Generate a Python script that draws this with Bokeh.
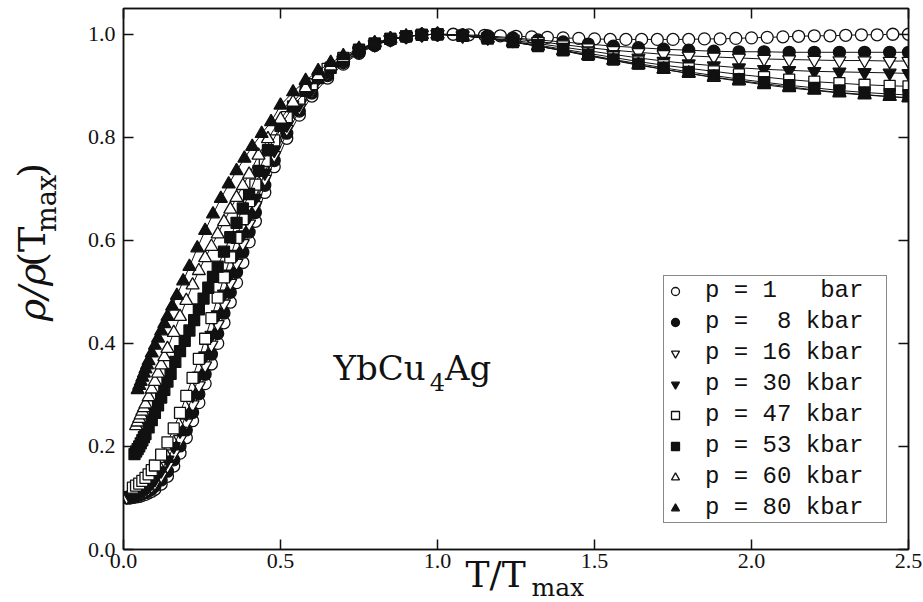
import math
from bokeh.plotting import figure
from bokeh.layouts import row
from bokeh.models import (Range1d, LinearAxis, FixedTicker, PrintfTickFormatter,
                          Label, Legend, LegendItem, Title)
from bokeh.embed import file_html
from bokeh.resources import INLINE

# ---------------- data ----------------
X_LOW = [0.01, 0.02, 0.03, 0.04, 0.05, 0.06, 0.07, 0.08, 0.09, 0.10,
         0.12, 0.14, 0.16, 0.18, 0.20, 0.22, 0.24, 0.26, 0.28, 0.30,
         0.32, 0.34, 0.36, 0.38, 0.40, 0.42, 0.45, 0.48, 0.52, 0.56,
         0.60, 0.65, 0.70, 0.75, 0.80, 0.85, 0.90, 0.95, 1.00]
X_HIGH = [1.08, 1.16, 1.24, 1.32, 1.40, 1.48, 1.56, 1.64, 1.72, 1.80,
          1.88, 1.96, 2.04, 2.12, 2.20, 2.28, 2.36, 2.44, 2.50]
X_HIGH_1BAR = [1.05, 1.10, 1.15, 1.20, 1.25, 1.30, 1.35, 1.40, 1.45, 1.50,
               1.55, 1.60, 1.65, 1.70, 1.75, 1.80, 1.85, 1.90, 1.95, 2.00,
               2.05, 2.10, 2.15, 2.20, 2.25, 2.30, 2.35, 2.40, 2.45, 2.50]

Y_1BAR_LOW = [.100, .100, .101, .102, .103, .105, .107, .110, .113, .117,
              .127, .142, .162, .187, .217, .250, .285, .322, .360, .400,
              .440, .480, .518, .557, .597, .637, .693, .743, .798, .843,
              .880, .915, .942, .963, .978, .989, .995, .999, 1.000]
Y_1BAR_HIGH = [1.000, .999, .998, .997, .996, .995, .994, .993, .992, .991,
               .990, .990, .990, .990, .990, .990, .991, .991, .992, .993,
               .994, .995, .996, .997, .997, .998, .999, .999, 1.000, 1.000]

Y_8_LOW = [.101, .102, .103, .104, .106, .108, .111, .114, .118, .123,
           .135, .152, .174, .201, .232, .266, .302, .340, .379, .419,
           .459, .499, .538, .577, .616, .654, .707, .755, .808, .851,
           .886, .920, .945, .965, .979, .989, .995, .999, 1.000]
Y_8_HIGH = [.999, .997, .993, .989, .985, .981, .977, .974, .971, .969,
            .967, .966, .966, .965, .965, .965, .965, .965, .965]

Y_16_LOW = [.102, .103, .104, .106, .108, .111, .114, .118, .123, .129,
            .143, .162, .186, .214, .246, .281, .318, .357, .397, .437,
            .477, .517, .556, .594, .632, .668, .719, .765, .816, .857,
            .890, .923, .947, .966, .980, .990, .996, .999, 1.000]
Y_16_HIGH = [.998, .995, .991, .986, .980, .974, .969, .965, .961, .958,
             .956, .954, .952, .951, .950, .949, .949, .948, .948]

Y_30_LOW = [.105, .106, .108, .111, .114, .118, .123, .129, .136,
            .153, .174, .200, .230, .263, .299, .337, .376, .416, .456,
            .496, .535, .573, .611, .647, .682, .731, .775, .824, .864,
            .895, .927, .950, .968, .981, .990, .996, .999, 1.000]
Y_30_HIGH = [.997, .993, .988, .982, .975, .968, .961, .954, .948, .943,
             .939, .935, .932, .930, .928, .927, .926, .925, .924]

Y_47_LOW = [.120, .124, .128, .133, .139, .146, .154, .163,
            .184, .208, .235, .265, .298, .333, .370, .409, .449, .489,
            .528, .567, .605, .641, .676, .708, .754, .794, .839, .875,
            .903, .933, .954, .970, .982, .991, .996, .999, 1.000]
Y_47_HIGH = [.997, .992, .986, .979, .971, .963, .955, .947, .940, .934,
             .928, .922, .917, .912, .908, .905, .902, .900, .899]

X_53_LOW = [0.035, 0.04, 0.045, 0.05, 0.055, 0.06, 0.065, 0.07, 0.08, 0.09,
            0.10, 0.11, 0.12, 0.13, 0.14, 0.15, 0.165, 0.18, 0.195, 0.21,
            0.225, 0.24, 0.255, 0.27, 0.285, 0.30, 0.32, 0.34, 0.36, 0.38,
            0.40, 0.43, 0.46, 0.50, 0.54, 0.58, 0.62, 0.66, 0.70, 0.75,
            0.80, 0.85, 0.90, 0.95, 1.00]
Y_53_LOW = [.185, .190, .195, .200, .206, .212, .218, .224, .237, .251,
            .265, .280, .295, .310, .326, .341, .364, .385, .405, .425,
            .445, .466, .487, .508, .529, .549, .578, .606, .634, .662,
            .690, .735, .775, .822, .860, .890, .915, .935, .951, .969,
            .982, .991, .996, .999, 1.000]
Y_53_HIGH = [.997, .992, .985, .977, .969, .960, .951, .943, .935, .927,
             .920, .913, .907, .901, .896, .891, .887, .884, .882]

X_60_LOW = [0.04, 0.045, 0.05, 0.055, 0.06, 0.065, 0.07, 0.08, 0.09, 0.10,
            0.11, 0.12, 0.13, 0.14, 0.16, 0.18, 0.20, 0.22, 0.24, 0.26,
            0.28, 0.30, 0.32, 0.34, 0.36, 0.38, 0.40, 0.43, 0.46, 0.50,
            0.54, 0.58, 0.62, 0.66, 0.70, 0.75, 0.80, 0.85, 0.90, 0.95, 1.00]
Y_60_LOW = [.240, .247, .254, .261, .268, .275, .282, .296, .311, .326,
            .342, .358, .374, .390, .421, .452, .483, .513, .541, .566,
            .588, .612, .636, .660, .683, .706, .728, .765, .797, .835,
            .868, .896, .919, .938, .954, .970, .983, .991, .996, .999, 1.000]
Y_60_HIGH = [.997, .992, .985, .977, .968, .959, .950, .941, .932, .924,
             .916, .909, .902, .896, .891, .886, .882, .879, .877]

X_80_LOW = [0.045, 0.05, 0.055, 0.06, 0.065, 0.07, 0.075, 0.08, 0.09, 0.10,
            0.11, 0.12, 0.13, 0.14, 0.155, 0.17, 0.19, 0.21, 0.235, 0.26,
            0.285, 0.31, 0.335, 0.36, 0.385, 0.41, 0.44, 0.47, 0.50, 0.54,
            0.58, 0.62, 0.66, 0.70, 0.75, 0.80, 0.85, 0.90, 0.95, 1.00]
Y_80_LOW = [.310, .318, .326, .334, .342, .350, .358, .366, .381, .396,
            .410, .424, .438, .452, .472, .493, .521, .549, .585, .619,
            .651, .681, .709, .735, .759, .782, .807, .830, .862, .888,
            .910, .929, .945, .958, .972, .983, .991, .996, .999, 1.000]
Y_80_HIGH = [.997, .992, .985, .977, .968, .958, .949, .940, .932, .924,
             .917, .910, .904, .898, .892, .887, .883, .879, .876]

LABELS = ["p = 1   bar", "p =  8 kbar", "p = 16 kbar", "p = 30 kbar",
          "p = 47 kbar", "p = 53 kbar", "p = 60 kbar", "p = 80 kbar"]

SERIES = [
    (X_LOW + X_HIGH_1BAR, Y_1BAR_LOW + Y_1BAR_HIGH, "circle", False, 12),
    (X_LOW + X_HIGH, Y_8_LOW + Y_8_HIGH, "circle", True, 12),
    (X_LOW + X_HIGH, Y_16_LOW + Y_16_HIGH, "inverted_triangle", False, 13),
    (X_LOW[1:] + X_HIGH, Y_30_LOW + Y_30_HIGH, "inverted_triangle", True, 13),
    (X_LOW[2:] + X_HIGH, Y_47_LOW + Y_47_HIGH, "square", False, 11),
    (X_53_LOW + X_HIGH, Y_53_LOW + Y_53_HIGH, "square", True, 11),
    (X_60_LOW + X_HIGH, Y_60_LOW + Y_60_HIGH, "triangle", False, 13),
    (X_80_LOW + X_HIGH, Y_80_LOW + Y_80_HIGH, "triangle", True, 13),
]

INK = "#111111"
SERIF = "DejaVu Serif"
TICK_FONT = "Liberation Serif"
STRIP_W = 80

# ---------------- main figure ----------------
p = figure(width=923 - STRIP_W, height=602, output_backend="svg",
           toolbar_location=None,
           x_range=Range1d(0, 2.5), y_range=Range1d(0, 1.05),
           x_axis_location=None, y_axis_location=None,
           min_border_left=123 - STRIP_W, min_border_right=15,
           min_border_top=8, min_border_bottom=53)
p.background_fill_color = "white"
p.border_fill_color = "white"
p.outline_line_color = INK
p.outline_line_width = 1.5
for g in p.grid:
    g.visible = False


def make_axis(ticks, show_labels):
    ax = LinearAxis(ticker=FixedTicker(ticks=ticks),
                    formatter=PrintfTickFormatter(format="%.1f"))
    ax.major_tick_in = 10
    ax.major_tick_out = 0
    ax.minor_tick_line_color = None
    ax.axis_line_color = INK
    ax.axis_line_width = 1.5
    ax.major_tick_line_color = INK
    ax.major_tick_line_width = 1.5
    if show_labels:
        ax.major_label_text_font = TICK_FONT
        ax.major_label_text_font_size = "22px"
        ax.major_label_text_color = INK
    else:
        ax.major_label_text_font_size = "1px"
        ax.major_label_text_color = None
        ax.major_label_standoff = 0
    return ax


XT = [0.0, 0.5, 1.0, 1.5, 2.0, 2.5]
YT = [0.0, 0.2, 0.4, 0.6, 0.8, 1.0]
ax_b = make_axis(XT, True)
ax_b.major_label_standoff = 4
ax_l = make_axis(YT, True)
ax_l.major_label_standoff = 8
p.add_layout(ax_b, "below")
p.add_layout(ax_l, "left")
p.add_layout(make_axis(XT, False), "above")
p.add_layout(make_axis(YT, False), "right")

# x axis title  T/T_max  (two titles stacked in the bottom panel)
p.add_layout(Title(text="T/T", align="left", offset=342, vertical_align="top",
                   standoff=-34, text_font=SERIF, text_font_size="36px",
                   text_font_style="normal", text_color=INK), "below")
p.add_layout(Title(text="max", align="left", offset=408, vertical_align="top",
                   standoff=-14, text_font=SERIF, text_font_size="25px",
                   text_font_style="normal", text_color=INK), "below")

# draw in legend order, so the filled high-pressure markers end up on top
scatter_renderers = []
for xs, ys, marker, filled, size in SERIES:
    p.line(xs, ys, line_color=INK, line_width=1)
    r = p.scatter(xs, ys, marker=marker, size=size,
                  fill_color=INK if filled else "white",
                  line_color=INK, line_width=1.3)
    scatter_renderers.append(r)

legend = Legend(items=[LegendItem(label=LABELS[i], renderers=[scatter_renderers[i]])
                       for i in range(len(SERIES))],
                location=(540, 26))
legend.label_text_font = "Liberation Mono"
legend.label_text_font_size = "24px"
legend.label_text_color = INK
legend.label_standoff = 20
legend.label_width = 180
legend.glyph_width = 20
legend.glyph_height = 20
legend.label_height = 20
legend.spacing = 4
legend.padding = 1
legend.margin = 0
legend.border_line_color = INK
legend.border_line_width = 1.2
legend.background_fill_color = "white"
legend.background_fill_alpha = 1.0
p.add_layout(legend, "center")

# compound name
p.add_layout(Label(x=0.669, y=0.353, text="YbCu", text_font=SERIF,
                   text_font_size="34px", text_baseline="alphabetic",
                   text_color=INK))
p.add_layout(Label(x=0.975, y=0.326, text="4", text_font=SERIF,
                   text_font_size="24px", text_baseline="alphabetic",
                   text_color=INK))
p.add_layout(Label(x=1.024, y=0.353, text="Ag", text_font=SERIF,
                   text_font_size="34px", text_baseline="alphabetic",
                   text_color=INK))

# ---------------- left strip holding the y axis title ----------------
s = figure(width=STRIP_W, height=602, output_backend="svg", toolbar_location=None,
           x_range=Range1d(0, STRIP_W), y_range=Range1d(0, 602),
           x_axis_location=None, y_axis_location=None,
           min_border=0, outline_line_color=None)
s.background_fill_color = "white"
s.border_fill_color = "white"
for g in s.grid:
    g.visible = False

A = math.pi / 2
common = dict(text_align="center", text_baseline="middle", angle=A,
              text_color=INK, text_font=SERIF)
s.add_layout(Label(x=31, y=286, text="ρ/ρ", text_font_style="italic",
                   text_font_size="38px", **common))
s.add_layout(Label(x=31, y=337, text="(T", text_font_size="38px", **common))
s.add_layout(Label(x=46, y=385, text="max", text_font_size="27px", **common))
s.add_layout(Label(x=31, y=422, text=")", text_font_size="38px", **common))

layout = row(s, p)
open("out.html", "w").write(file_html(layout, INLINE))
